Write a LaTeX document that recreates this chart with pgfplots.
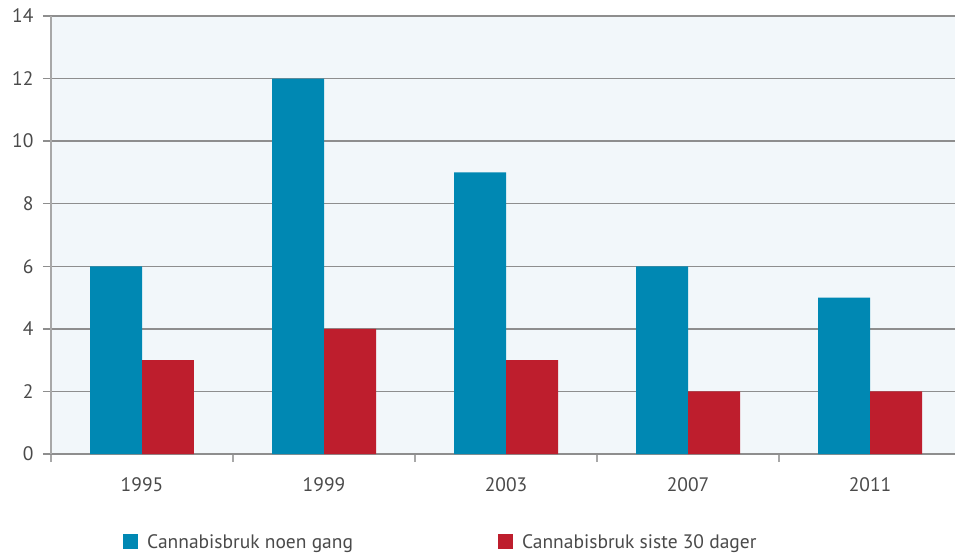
\documentclass[border=0pt]{standalone}
\usepackage{pgfplots}
\pgfplotsset{compat=1.18}
\usepackage{fontspec}
\setmainfont{PT Sans}
\definecolor{cblue}{HTML}{0088B3}
\definecolor{cred}{HTML}{BE1E2D}
\definecolor{bgc}{HTML}{F2F7FA}
\definecolor{gridc}{HTML}{8E8E8E}
\definecolor{axc}{HTML}{A8A8A8}
\definecolor{txt}{HTML}{4A4A4A}
\begin{document}
\begin{tikzpicture}
\begin{axis}[
  scale only axis,
  width=904pt, height=438pt,
  ybar=0pt, bar width=0.2857,
  xmin=-0.5, xmax=4.467,
  ymin=0, ymax=14,
  ytick={0,2,...,14},
  xtick={0,1,2,3,4},
  xticklabels={1995,1999,2003,2007,2011},
  minor xtick={-0.5,0.5,1.5,2.5,3.5},
  major x tick style={draw=none},
  minor tick length=8pt,
  tick align=outside,
  major tick length=8pt,
  ymajorgrids,
  grid style={gridc, line width=1.3pt},
  axis background/.style={fill=bgc},
  axis x line*=bottom,
  axis y line*=left,
  axis line style={axc, line width=1.2pt},
  x axis line style={gridc, line width=1.3pt},
  every tick/.style={axc, line width=1.2pt},
  y tick style={gridc, line width=1.3pt},
  tick label style={font=\fontsize{19.5}{22}\selectfont, text=txt},
  yticklabel style={xshift=-6pt},
  xticklabel style={yshift=-12pt},
  /pgf/number format/assume math mode=true,
  legend style={draw=none, fill=none, at={(axis description cs:0,0)}, anchor=north west,
    xshift=72pt, yshift=-80pt, inner sep=0pt,
    font=\fontsize{19.5}{22}\selectfont, text=txt,
    nodes={inner sep=0pt, text=txt},
    column sep=9pt,
    /tikz/every even column/.append style={column sep=145pt}},
  legend columns=2,
  legend image code/.code={\fill[#1] (0pt,-7.5pt) rectangle (15pt,7.5pt);},
  clip=false,
]
\addplot[fill=cblue, draw=none] coordinates {(0,6) (1,12) (2,9) (3,6) (4,5)};
\addplot[fill=cred, draw=none] coordinates {(0,3) (1,4) (2,3) (3,2) (4,2)};
\legend{Cannabisbruk noen gang, Cannabisbruk siste 30 dager}
\end{axis}
\pgfresetboundingbox
\path[use as bounding box] ([xshift=-51pt,yshift=-100pt]current axis.south west) rectangle ([yshift=16pt]current axis.north east);
\end{tikzpicture}
\end{document}
